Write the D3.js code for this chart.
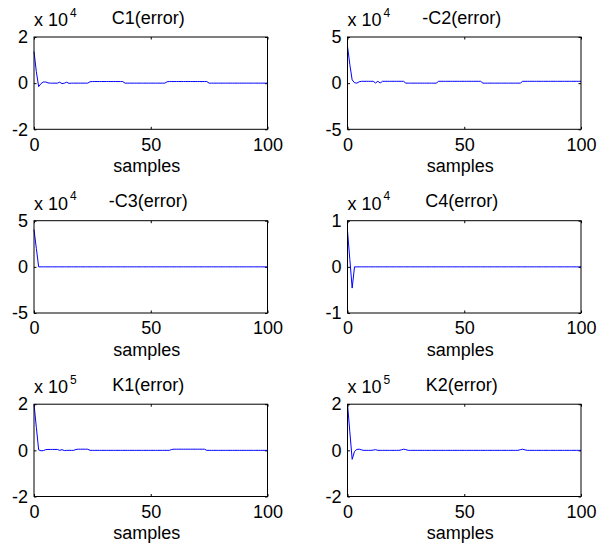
<!DOCTYPE html>
<html>
<head>
<meta charset="utf-8">
<script src="https://cdn.jsdelivr.net/npm/d3@7"></script>
<style>
  body { margin: 0; background: #fff; }
  svg { display: block; font-family: "Liberation Sans", Arial, sans-serif; }
  .tick line { stroke: #000; }
  .tick text { font-size: 18px; fill: #000; }
</style>
</head>
<body>
<div class="grafico"></div>
<script>
/*Titulos y exponentes*/
const titles = ['C1(error)', '-C2(error)', '-C3(error)', 'C4(error)', 'K1(error)', 'K2(error)']
const exponents = [4, 4, 4, 4, 5, 5]
const yLimits = [2, 5, 5, 1, 2, 2]
const xTicks = [0, 50, 100]
const xLabel = 'samples'

/*Series (en unidades de 10^exp), muestras 0..100*/
const c1 = [
  1.37, 0.5, -0.15, -0.02, 0.05, 0.05, 0.01, 0, 0, 0,
  0, 0.04, -0.02, 0, 0.04, -0.01, 0, 0, 0, 0,
  0, 0, 0, 0, 0.06, 0.07, 0.07, 0.07, 0.07, 0.07,
  0.07, 0.07, 0.07, 0.07, 0.07, 0.07, 0.07, 0.07, 0.07, 0,
  0, 0, 0, 0, 0, 0, 0, 0, 0, 0,
  0, 0, 0, 0, 0, 0, 0, 0.06, 0.07, 0.07,
  0.07, 0.07, 0.07, 0.07, 0.07, 0.07, 0.07, 0.07, 0.07, 0.07,
  0.07, 0.07, 0.07, 0.07, 0.07, 0, 0, 0, 0, 0,
  0, 0, 0, 0, 0, 0, 0, 0, 0, 0,
  0, 0, 0, 0, 0, 0, 0, 0, 0, 0,
  0]
const c2 = [
  4.0, 2.0, 0.35, 0.05, 0, 0.15, 0.2, 0.2, 0.2, 0.2,
  0.2, 0.2, 0.02, 0.2, 0.02, 0.2, 0.2, 0.2, 0.2, 0.2,
  0.2, 0.2, 0.2, 0.2, 0.2, 0, 0, 0, 0, 0,
  0, 0, 0, 0, 0, 0, 0, 0, 0, 0.2,
  0.2, 0.2, 0.2, 0.2, 0.2, 0.2, 0.2, 0.2, 0.2, 0.2,
  0.2, 0.2, 0.2, 0.2, 0.2, 0.2, 0.2, 0.2, 0, 0,
  0, 0, 0, 0, 0, 0, 0, 0, 0, 0,
  0, 0, 0, 0, 0, 0.2, 0.2, 0.2, 0.2, 0.2,
  0.2, 0.2, 0.2, 0.2, 0.2, 0.2, 0.2, 0.2, 0.2, 0.2,
  0.2, 0.2, 0.2, 0.2, 0.2, 0.2, 0.2, 0.2, 0.2, 0.2,
  0.2]
const c3 = [
  4.05, 2.0, 0, 0, 0, 0, 0, 0, 0, 0,
  0, 0, 0, 0, 0, 0, 0, 0, 0, 0,
  0, 0, 0, 0, 0, 0, 0, 0, 0, 0,
  0, 0, 0, 0, 0, 0, 0, 0, 0, 0,
  0, 0, 0, 0, 0, 0, 0, 0, 0, 0,
  0, 0, 0, 0, 0, 0, 0, 0, 0, 0,
  0, 0, 0, 0, 0, 0, 0, 0, 0, 0,
  0, 0, 0, 0, 0, 0, 0, 0, 0, 0,
  0, 0, 0, 0, 0, 0, 0, 0, 0, 0,
  0, 0, 0, 0, 0, 0, 0, 0, 0, 0,
  0]
const c4 = [
  0.78, 0.16, -0.46, 0, 0, 0, 0, 0, 0, 0,
  0, 0, 0, 0, 0, 0, 0, 0, 0, 0,
  0, 0, 0, 0, 0, 0, 0, 0, 0, 0,
  0, 0, 0, 0, 0, 0, 0, 0, 0, 0,
  0, 0, 0, 0, 0, 0, 0, 0, 0, 0,
  0, 0, 0, 0, 0, 0, 0, 0, 0, 0,
  0, 0, 0, 0, 0, 0, 0, 0, 0, 0,
  0, 0, 0, 0, 0, 0, 0, 0, 0, 0,
  0, 0, 0, 0, 0, 0, 0, 0, 0, 0,
  0, 0, 0, 0, 0, 0, 0, 0, 0, 0,
  0]
const k1 = [
  2.0, 1.0, 0.02, -0.02, -0.01, 0.03, 0.04, 0.04, 0.04, 0.04,
  0.04, 0, 0.03, -0.01, 0, 0, 0, 0, 0.04, 0.05,
  0.05, 0.05, 0.05, 0.05, 0, 0, 0, 0, 0, 0,
  0, 0, 0, 0, 0, 0, 0, 0, 0, 0,
  0, 0, 0, 0, 0, 0, 0, 0, 0, 0,
  0, 0, 0, 0, 0, 0, 0, 0, 0, 0.04,
  0.05, 0.05, 0.05, 0.05, 0.05, 0.05, 0.05, 0.05, 0.05, 0.05,
  0.05, 0.05, 0.05, 0.05, 0, 0, 0, 0, 0, 0,
  0, 0, 0, 0, 0, 0, 0, 0, 0, 0,
  0, 0, 0, 0, 0, 0, 0, 0, 0, 0,
  0]
const k2 = [
  2.0, 0.8, -0.39, -0.05, 0.04, 0.05, 0.02, 0, 0, 0,
  0, 0.01, 0.03, 0, 0, 0, 0, 0, 0, 0,
  0, 0, 0, 0.02, 0.05, 0.03, 0, 0, 0, 0,
  0, 0, 0, 0, 0, 0, 0, 0, 0, 0,
  0, 0, 0, 0, 0, 0, 0, 0, 0, 0,
  0, 0, 0, 0, 0, 0, 0, 0, 0, 0,
  0, 0, 0, 0, 0, 0, 0, 0, 0, 0,
  0, 0, 0, 0, 0.03, 0.05, 0.02, 0, 0, 0,
  0, 0, 0, 0, 0, 0, 0, 0, 0, 0,
  0, 0, 0, 0, 0, 0, 0, 0, 0, 0,
  0]
const series = [c1, c2, c3, c4, k1, k2]

const w = 609
const h = 551

/*Posicion de cada subplot*/
const colX = [34, 347.5]
const rowY = [37, 220.7, 404.2]
const pw = 233.5
const ph = 92.3

const svg = d3.select('.grafico')
  .append('svg')
  .attr('width', w)
  .attr('height', h)

svg.append('rect')
  .attr('width', w)
  .attr('height', h)
  .attr('fill', '#fff')

series.forEach((values, i) => {
  const left = colX[i % 2]
  const top = rowY[Math.floor(i / 2)]
  const lim = yLimits[i]

  const x = d3.scaleLinear().domain([0, 100]).range([0, pw])
  const y = d3.scaleLinear().domain([-lim, lim]).range([ph, 0])

  const g = svg.append('g')
    .attr('transform', `translate(${left},${top})`)

  /*Ejes con ticks hacia adentro*/
  g.append('g')
    .attr('transform', `translate(0,${ph})`)
    .call(d3.axisBottom(x).tickValues(xTicks).tickSizeInner(-2.5).tickSizeOuter(0).tickPadding(8.7))
    .call(a => a.select('.domain').remove())

  g.append('g')
    .call(d3.axisTop(x).tickValues(xTicks).tickSizeInner(-2.5).tickSizeOuter(0).tickFormat(''))
    .call(a => a.select('.domain').remove())

  g.append('g')
    .call(d3.axisLeft(y).tickValues([-lim, 0, lim]).tickSizeInner(-2.5).tickSizeOuter(0)
      .tickPadding(6).tickFormat(d => String(d)))
    .call(a => a.select('.domain').remove())

  g.append('g')
    .attr('transform', `translate(${pw},0)`)
    .call(d3.axisRight(y).tickValues([-lim, 0, lim]).tickSizeInner(-2.5).tickSizeOuter(0).tickFormat(''))
    .call(a => a.select('.domain').remove())

  /*Linea de error*/
  const line = d3.line()
    .x((d, j) => x(j))
    .y(d => y(d))

  g.append('path')
    .datum(values)
    .attr('fill', 'none')
    .attr('stroke', '#0000ff')
    .attr('stroke-width', 1)
    .attr('d', line)

  /*Caja*/
  g.append('rect')
    .attr('width', pw)
    .attr('height', ph)
    .attr('fill', 'none')
    .attr('stroke', '#000')
    .attr('stroke-width', 1)

  /*Titulo*/
  g.append('text')
    .attr('x', pw / 2 - 2.5)
    .attr('y', -13.5)
    .attr('text-anchor', 'middle')
    .attr('font-size', 18)
    .text(titles[i])

  /*Multiplicador x 10^n*/
  g.append('text')
    .attr('x', 0)
    .attr('y', -11)
    .attr('font-size', 18)
    .text('x 10')

  g.append('text')
    .attr('x', 36)
    .attr('y', -20.5)
    .attr('font-size', 12)
    .text(exponents[i])

  /*Etiqueta eje x*/
  g.append('text')
    .attr('x', pw / 2 - 4)
    .attr('y', ph + 43)
    .attr('text-anchor', 'middle')
    .attr('font-size', 18)
    .text(xLabel)
})
</script>
</body>
</html>
